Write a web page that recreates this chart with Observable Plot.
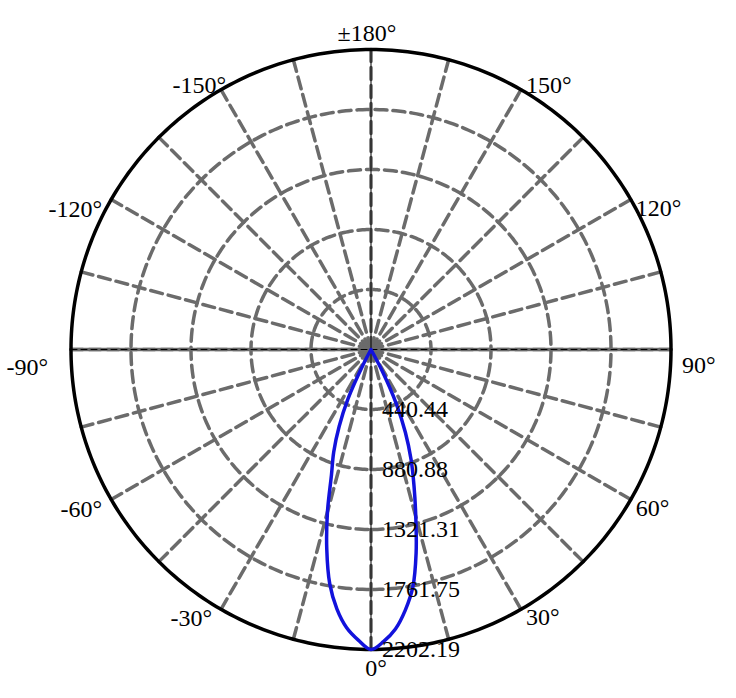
<!DOCTYPE html>
<html>
<head>
<meta charset="utf-8">
<script src="https://cdn.jsdelivr.net/npm/d3@7"></script>
<script src="https://cdn.jsdelivr.net/npm/@observablehq/plot@0.6"></script>
<style>
  html, body { margin: 0; padding: 0; background: #fff; }
  #chart svg { display: block; }
</style>
</head>
<body>
<div id="chart"></div>
<script>
// ---- data ----
const maxIntensity = 2202.19;
const ringValues = [440.44, 880.88, 1321.31, 1761.75];
const ringLabels = ["440.44", "880.88", "1321.31", "1761.75", "2202.19"];
const ringLabelValues = [440.44, 880.88, 1321.31, 1761.75, 2202.19];
const spokeAngles = [-165, -150, -135, -120, -105, -90, -75, -60, -45, -30, -15, 0,
                     15, 30, 45, 60, 75, 90, 105, 120, 135, 150, 165, 180];
const angleTicks  = [0, 30, 60, 90, 120, 150, 180, -30, -60, -90, -120, -150];
const angleLabels = ["0°", "30°", "60°", "90°", "120°", "150°", "±180°", "-30°", "-60°", "-90°", "-120°", "-150°"];
// candela distribution (C0-C180 plane), angle in degrees
const beamAngles = [-180, -150, -120, -90, -60, -30, -27.5, -25, -22.5, -20, -17.5, -15, -12.5, -10, -7.5, -5, -2.5,
                    0, 2.5, 5, 7.5, 10, 12.5, 15, 17.5, 20, 22.5, 25, 27.5, 30, 60, 90, 120, 150, 180];
const beamIntensity = [0, 0, 0, 0, 0, 0, 110, 400, 610, 800, 965, 1235, 1500, 1745, 1920, 2050, 2135,
                       2202.19, 2145, 2060, 1930, 1770, 1530, 1270, 1050, 860, 660, 440, 180, 0, 0, 0, 0, 0, 0];

// ---- helpers (polar -> cartesian data space; 0° points down, +angles to the right) ----
const rad = a => a * Math.PI / 180;
const px = (a, r) => r * Math.sin(rad(a));
const py = (a, r) => r * Math.cos(rad(a));

const circleSteps = d3.range(0, 361, 1);
const ringPts = ringValues.flatMap(r => circleSteps.map(a => ({ring: r, x: px(a, r), y: py(a, r)})));
const outerPts = circleSteps.map(a => ({x: px(a, maxIntensity), y: py(a, maxIntensity)}));
const spokePts = spokeAngles.flatMap(a => [0, maxIntensity].map(r => ({a, x: px(a, r), y: py(a, r)})));
const hAxis = [-90, 90].map(a => ({x: px(a, maxIntensity), y: py(a, maxIntensity)}));
const vAxis = [180, 0].map(a => ({x: px(a, maxIntensity), y: py(a, maxIntensity)}));
const beam = beamAngles.map((a, i) => ({x: px(a, beamIntensity[i]), y: py(a, beamIntensity[i])}));
const ringText = ringLabelValues.map((r, i) => ({x: px(0, r), y: py(0, r), text: ringLabels[i]}));
const angleText = angleTicks.map((a, i) => ({a, x: px(a, maxIntensity), y: py(a, maxIntensity), text: angleLabels[i]}));
const pick = list => angleText.filter(d => list.includes(d.a));

const gray = "#6b6b6b";
const font = {fontSize: 24, fill: "#000"};

const chart = Plot.plot({
  width: 736,
  height: 698,
  margin: 0,
  x: {domain: [-maxIntensity, maxIntensity], range: [70.5, 670.5], axis: null},
  y: {domain: [-maxIntensity, maxIntensity], range: [49, 649], axis: null},
  style: {fontFamily: "'Liberation Serif', 'Times New Roman', serif", background: "#fff"},
  marks: [
    Plot.line(ringPts, {x: "x", y: "y", z: "ring", stroke: gray, strokeWidth: 3.5, strokeDasharray: "12,6"}),
    Plot.line(spokePts, {x: "x", y: "y", z: "a", stroke: gray, strokeWidth: 3.5, strokeDasharray: "12,6"}),
    Plot.line(hAxis, {x: "x", y: "y", stroke: gray, strokeWidth: 3.5}),
    Plot.line(vAxis, {x: "x", y: "y", stroke: "#000", strokeWidth: 1}),
    Plot.line(hAxis, {x: "x", y: "y", stroke: "#000", strokeWidth: 1, strokeDasharray: "6,4"}),
    Plot.line(outerPts, {x: "x", y: "y", stroke: "#000", strokeWidth: 3.5}),
    Plot.line(beam, {x: "x", y: "y", stroke: "#1212dc", strokeWidth: 3.5, curve: "catmull-rom"}),
    Plot.text(ringText, {x: "x", y: "y", text: "text", textAnchor: "start", lineAnchor: "middle", dx: 11, ...font}),
    Plot.text(pick([0]), {x: "x", y: "y", text: "text", textAnchor: "middle", lineAnchor: "top", dx: 5, dy: 9, ...font}),
    Plot.text(pick([180]), {x: "x", y: "y", text: "text", textAnchor: "middle", lineAnchor: "bottom", dx: -4, dy: -9, ...font}),
    Plot.text(pick([90]), {x: "x", y: "y", text: "text", textAnchor: "start", lineAnchor: "top", dx: 11, dy: 6, ...font}),
    Plot.text(pick([-90]), {x: "x", y: "y", text: "text", textAnchor: "end", lineAnchor: "top", dx: -23, dy: 8, ...font}),
    Plot.text(pick([30, 60, 120]), {x: "x", y: "y", text: "text", textAnchor: "start", lineAnchor: "top", dx: 5, dy: -1, ...font}),
    Plot.text(pick([150]), {x: "x", y: "y", text: "text", textAnchor: "start", lineAnchor: "bottom", dx: 5, dy: 3, ...font}),
    Plot.text(pick([-30, -60, -120]), {x: "x", y: "y", text: "text", textAnchor: "end", lineAnchor: "top", dx: -9, dy: 0, ...font}),
    Plot.text(pick([-150]), {x: "x", y: "y", text: "text", textAnchor: "end", lineAnchor: "bottom", dx: 5, dy: 3, ...font})
  ]
});
document.getElementById("chart").appendChild(chart);
</script>
</body>
</html>
